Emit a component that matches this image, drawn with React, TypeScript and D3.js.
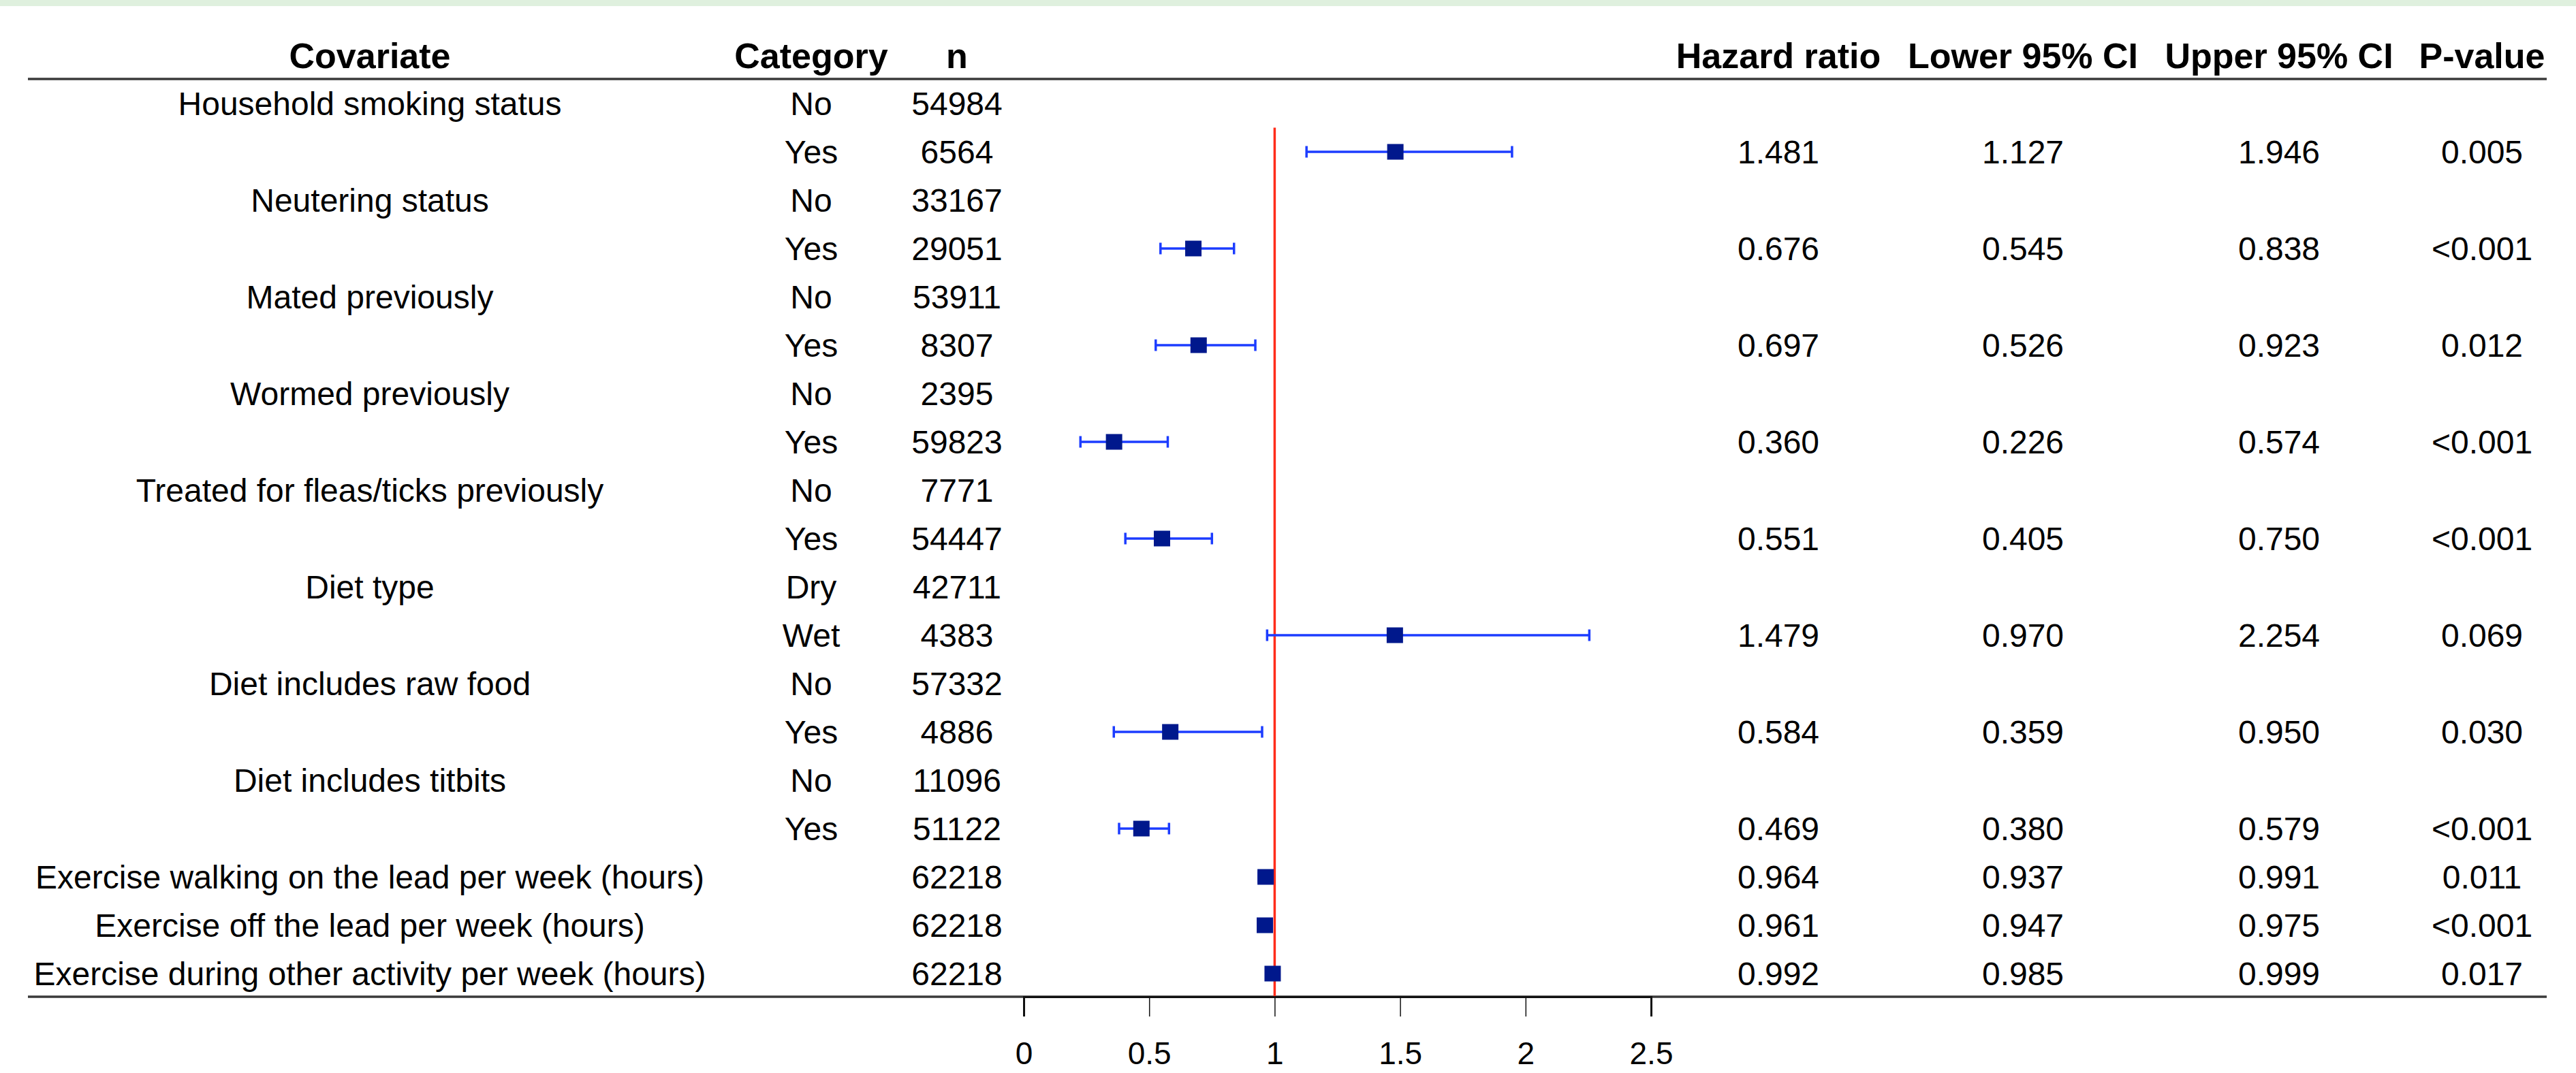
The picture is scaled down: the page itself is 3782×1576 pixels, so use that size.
import React, { useEffect, useRef } from 'react';
import * as d3 from 'd3';

// table rows, top to bottom
const covariates = [
  'Household smoking status', '',
  'Neutering status', '',
  'Mated previously', '',
  'Wormed previously', '',
  'Treated for fleas/ticks previously', '',
  'Diet type', '',
  'Diet includes raw food', '',
  'Diet includes titbits', '',
  'Exercise walking on the lead per week (hours)',
  'Exercise off the lead per week (hours)',
  'Exercise during other activity per week (hours)',
];
const categories = ['No', 'Yes', 'No', 'Yes', 'No', 'Yes', 'No', 'Yes', 'No', 'Yes', 'Dry', 'Wet', 'No', 'Yes', 'No', 'Yes', '', '', ''];
const nValues = ['54984', '6564', '33167', '29051', '53911', '8307', '2395', '59823', '7771', '54447', '42711', '4383', '57332', '4886', '11096', '51122', '62218', '62218', '62218'];
const hazardRatio = [null, 1.481, null, 0.676, null, 0.697, null, 0.360, null, 0.551, null, 1.479, null, 0.584, null, 0.469, 0.964, 0.961, 0.992];
const lowerCI = [null, 1.127, null, 0.545, null, 0.526, null, 0.226, null, 0.405, null, 0.970, null, 0.359, null, 0.380, 0.937, 0.947, 0.985];
const upperCI = [null, 1.946, null, 0.838, null, 0.923, null, 0.574, null, 0.750, null, 2.254, null, 0.950, null, 0.579, 0.991, 0.975, 0.999];
const pValues = ['', '0.005', '', '<0.001', '', '0.012', '', '<0.001', '', '<0.001', '', '0.069', '', '0.030', '', '<0.001', '0.011', '<0.001', '0.017'];
const axisTicks = [0, 0.5, 1, 1.5, 2, 2.5];

const W = 3782;
const H = 1576;
const FONT = '"Liberation Sans", Arial, sans-serif';

const App = () => {
  const ref = useRef(null);

  useEffect(() => {
    d3.select(ref.current).selectAll('*').remove();
    const svg = d3.select(ref.current);

    const x = d3.scaleLinear().domain([0, 2.5]).range([1503, 2424]);
    const y = d3.scaleLinear().domain([0, covariates.length - 1]).range([152, 1430]);
    const rowH = y(1) - y(0);

    // thin green band at the very top
    svg.append('rect')
      .attr('x', 0).attr('y', 0).attr('width', W).attr('height', 9)
      .attr('fill', '#dff0de');

    const cols = [
      { title: 'Covariate', x: 543, vals: covariates },
      { title: 'Category', x: 1191, vals: categories },
      { title: 'n', x: 1405, vals: nValues },
      { title: 'Hazard ratio', x: 2611, vals: hazardRatio.map(d => d == null ? '' : d.toFixed(3)) },
      { title: 'Lower 95% CI', x: 2970, vals: lowerCI.map(d => d == null ? '' : d.toFixed(3)) },
      { title: 'Upper 95% CI', x: 3346, vals: upperCI.map(d => d == null ? '' : d.toFixed(3)) },
      { title: 'P-value', x: 3644, vals: pValues },
    ];

    // header
    svg.selectAll('.head')
      .data(cols)
      .enter().append('text')
      .attr('class', 'head')
      .attr('x', d => d.x)
      .attr('y', 100)
      .attr('text-anchor', 'middle')
      .attr('font-family', FONT)
      .attr('font-weight', 'bold')
      .attr('font-size', 52)
      .attr('fill', '#000')
      .text(d => d.title);

    // body cells
    cols.forEach(col => {
      svg.append('g')
        .selectAll('text')
        .data(col.vals)
        .enter().append('text')
        .attr('x', col.x)
        .attr('y', (d, i) => y(i) + 17)
        .attr('text-anchor', 'middle')
        .attr('font-family', FONT)
        .attr('font-size', 48)
        .attr('fill', '#000')
        .text(d => d);
    });

    // horizontal rules
    [116, 1464].forEach(yy => {
      svg.append('line')
        .attr('x1', 41).attr('x2', 3739)
        .attr('y1', yy).attr('y2', yy)
        .attr('stroke', '#3a3a3a')
        .attr('stroke-width', 3.5);
    });

    // reference line at HR = 1
    svg.append('line')
      .attr('x1', x(1)).attr('x2', x(1))
      .attr('y1', y(1) - rowH / 2).attr('y2', 1464)
      .attr('stroke', '#ff2d1a')
      .attr('stroke-width', 3.5);

    const rows = hazardRatio
      .map((hr, i) => ({ i, hr, lo: lowerCI[i], hi: upperCI[i] }))
      .filter(d => d.hr != null);

    const ci = svg.append('g')
      .attr('stroke', '#1c3cff')
      .attr('stroke-width', 3.5);

    ci.selectAll('.ci')
      .data(rows)
      .enter().append('line')
      .attr('x1', d => x(d.lo)).attr('x2', d => x(d.hi))
      .attr('y1', d => y(d.i)).attr('y2', d => y(d.i));

    ['lo', 'hi'].forEach(k => {
      ci.selectAll('.cap-' + k)
        .data(rows)
        .enter().append('line')
        .attr('x1', d => x(d[k])).attr('x2', d => x(d[k]))
        .attr('y1', d => y(d.i) - 8.5).attr('y2', d => y(d.i) + 8.5);
    });

    svg.selectAll('.box')
      .data(rows)
      .enter().append('rect')
      .attr('x', d => x(d.hr) - 12)
      .attr('y', d => y(d.i) - 11.5)
      .attr('width', 24)
      .attr('height', 23)
      .attr('fill', '#00188c');

    // x axis
    const axis = svg.append('g')
      .attr('transform', 'translate(0,1464)')
      .call(d3.axisBottom(x).tickValues(axisTicks).tickFormat(d3.format('')).tickSize(29).tickPadding(37));
    axis.select('.domain').attr('stroke', '#111').attr('stroke-width', 3);
    axis.selectAll('.tick line').attr('stroke', '#111').attr('stroke-width', 1.5);
    axis.selectAll('.tick text')
      .attr('fill', '#000')
      .attr('font-family', FONT)
      .attr('font-size', 46);
  }, []);

  return (
    <svg ref={ref} width={W} height={H} style={{ position: 'absolute', left: 0, top: 0, background: '#fff' }}></svg>
  );
};

export default App;
